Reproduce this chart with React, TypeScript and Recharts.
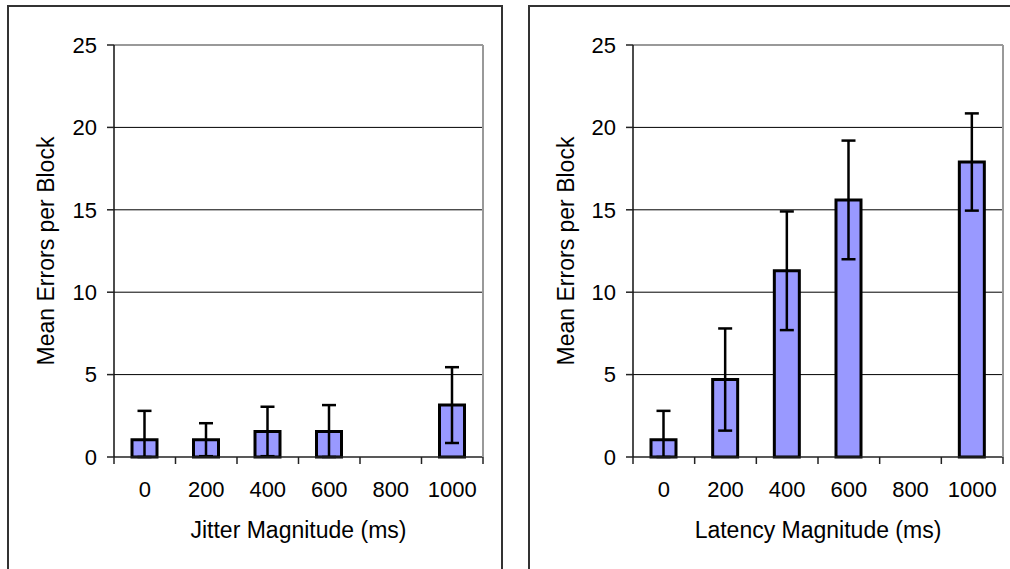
import React from "react";
import {
  Bar,
  BarChart,
  CartesianGrid,
  ErrorBar,
  Label,
  XAxis,
  YAxis,
} from "recharts";

const magnitudes = ["0", "200", "400", "600", "800", "1000"];

const jitterMeans = [1.05, 1.05, 1.55, 1.55, null, 3.15];
const jitterErrors = [1.75, 1.0, 1.5, 1.6, null, 2.3];

const latencyMeans = [1.05, 4.7, 11.3, 15.6, null, 17.9];
const latencyErrors = [1.75, 3.1, 3.6, 3.6, null, 2.95];

const yTicks = [0, 5, 10, 15, 20, 25];
const gridValues = [5, 10, 15, 20];
const boundaryTicks = [0, 1, 2, 3, 4, 5, 6];

const FONT = "'Liberation Sans', Arial, sans-serif";

// error bars stop at the axis, like the original (Excel clips them)
function buildRows(means: (number | null)[], errors: (number | null)[]) {
  return magnitudes.map((m, i) => {
    const v = means[i];
    const e = errors[i];
    return {
      magnitude: m,
      value: v,
      slot: i + 0.5,
      err: v == null || e == null ? null : [Math.min(e, v), e],
    };
  });
}

const noLabel = () => <g />;

type PanelProps = {
  rows: ReturnType<typeof buildRows>;
  xTitle: string;
  width: number;
  margin: { top: number; right: number; bottom: number; left: number };
  labelOffset: number;
};

function ErrorPanel({ rows, xTitle, width, margin, labelOffset }: PanelProps) {
  return (
    <BarChart width={width} height={569} data={rows} margin={margin}>
      <CartesianGrid
        horizontal
        vertical={false}
        horizontalValues={gridValues}
        stroke="#000"
        strokeWidth={1}
      />
      {/* tick marks sit between categories, as in Excel */}
      <XAxis
        xAxisId={0}
        type="number"
        dataKey="slot"
        domain={[0, 6]}
        allowDataOverflow
        ticks={boundaryTicks}
        interval={0}
        height={1}
        tick={noLabel}
        tickSize={7}
        axisLine={{ stroke: "#222", strokeWidth: 1.5 }}
        tickLine={{ stroke: "#222", strokeWidth: 1.5 }}
      />
      <XAxis
        xAxisId={1}
        dataKey="magnitude"
        height={1}
        axisLine={false}
        tickLine={false}
        tickSize={7}
        tickMargin={16}
        interval={0}
        tick={{ fill: "#000", fontSize: 22, fontFamily: FONT }}
      >
        <Label
          value={xTitle}
          position="bottom"
          offset={63}
          style={{ fill: "#000", fontSize: 23, fontFamily: FONT }}
        />
      </XAxis>
      <XAxis
        xAxisId="top"
        orientation="top"
        dataKey="magnitude"
        height={1}
        tick={false}
        tickLine={false}
        axisLine={{ stroke: "#999", strokeWidth: 2 }}
      />
      <YAxis
        domain={[0, 25]}
        ticks={yTicks}
        width={60}
        tickSize={7}
        tickMargin={10}
        axisLine={{ stroke: "#111", strokeWidth: 1.5 }}
        tickLine={{ stroke: "#222", strokeWidth: 1.5 }}
        tick={{ fill: "#000", fontSize: 22, fontFamily: FONT }}
      >
        <Label
          value="Mean Errors per Block"
          angle={-90}
          position="insideLeft"
          offset={labelOffset}
          style={{
            fill: "#000",
            fontSize: 23,
            fontFamily: FONT,
            textAnchor: "middle",
          }}
        />
      </YAxis>
      <YAxis
        yAxisId="right"
        orientation="right"
        domain={[0, 25]}
        width={1}
        tick={false}
        tickLine={false}
        axisLine={{ stroke: "#999", strokeWidth: 2 }}
      />
      <Bar
        xAxisId={1}
        dataKey="value"
        barSize={25}
        fill="#9999FF"
        stroke="#000"
        strokeWidth={3}
        isAnimationActive={false}
      >
        <ErrorBar
          dataKey="err"
          width={7}
          stroke="#000"
          strokeWidth={2.5}
          direction="y"
          isAnimationActive={false}
        />
      </Bar>
    </BarChart>
  );
}

export default function App() {
  const jitterRows = buildRows(jitterMeans, jitterErrors);
  const latencyRows = buildRows(latencyMeans, latencyErrors);

  return (
    <div
      style={{
        position: "fixed",
        left: 0,
        top: 0,
        width: 1010,
        height: 569,
        overflow: "hidden",
        background: "#fff",
      }}
    >
      <div
        style={{
          position: "absolute",
          left: 7,
          top: 5,
          width: 496,
          height: 620,
          border: "2px solid #333",
          boxSizing: "border-box",
        }}
      />
      <div
        style={{
          position: "absolute",
          left: 528,
          top: 5,
          width: 520,
          height: 620,
          border: "2px solid #333",
          boxSizing: "border-box",
        }}
      />
      <div style={{ position: "absolute", left: 0, top: 0 }}>
        <ErrorPanel
          rows={jitterRows}
          xTitle="Jitter Magnitude (ms)"
          width={502}
          margin={{ top: 44, right: 18, bottom: 110, left: 54 }}
          labelOffset={-8}
        />
      </div>
      <div style={{ position: "absolute", left: 505, top: 0 }}>
        <ErrorPanel
          rows={latencyRows}
          xTitle="Latency Magnitude (ms)"
          width={505}
          margin={{ top: 44, right: 6, bottom: 110, left: 68 }}
          labelOffset={-7}
        />
      </div>
    </div>
  );
}
